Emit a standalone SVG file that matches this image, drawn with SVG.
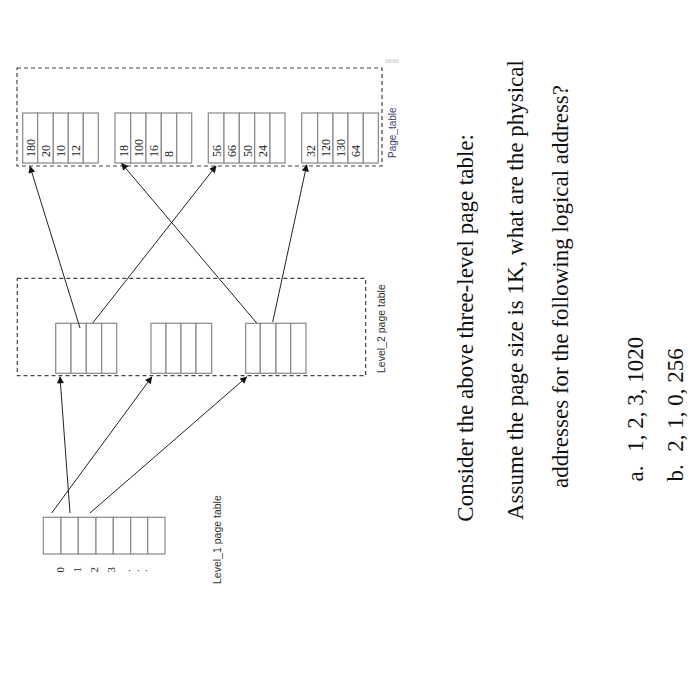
<svg xmlns="http://www.w3.org/2000/svg" width="695" height="700" viewBox="0 0 695 700">
<style>
.dash{fill:none;stroke:#444;stroke-width:1.2;stroke-dasharray:4 3}
.cell{fill:#fff;stroke:#888;stroke-width:1.2}
.num{font-family:"Liberation Serif",serif;font-size:12px;fill:#222}
.lab{font-family:"Liberation Sans",sans-serif;font-size:10.5px;fill:#333}
.q{font-family:"Liberation Serif",serif;font-size:23px;fill:#111}
.conn{stroke:#222;stroke-width:1;fill:none;marker-end:url(#ah)}
</style>
<defs>
<marker id="ah" viewBox="0 0 10 10" refX="9" refY="5" markerWidth="8" markerHeight="7" markerUnits="userSpaceOnUse" orient="auto">
<path d="M0,0 L10,5 L0,10 z" fill="#111"/>
</marker>
</defs>
<rect width="695" height="700" fill="#fff"/>

<g id="page_table">
<rect class="dash" x="17" y="68" width="365" height="98"/>
<rect x="385" y="59" width="14" height="4" fill="#e4e4e4"/>
<text class="lab" transform="translate(396,158) rotate(-90)" style="fill:#3b3f6e;font-size:10px">Page_table</text>
<g id="pt_group1">
<rect class="cell" x="22.7" y="113" width="15" height="50"/>
<rect class="cell" x="37.7" y="113" width="15.6" height="50"/>
<rect class="cell" x="53.3" y="113" width="15" height="50"/>
<rect class="cell" x="68.3" y="113" width="15" height="50"/>
<rect class="cell" x="83.3" y="113" width="15" height="50"/>
<text class="num" transform="translate(34.5,157) rotate(-90)">180</text>
<text class="num" transform="translate(50,157) rotate(-90)">20</text>
<text class="num" transform="translate(65,157) rotate(-90)">10</text>
<text class="num" transform="translate(80,157) rotate(-90)">12</text>
</g>
<g id="pt_group2">
<rect class="cell" x="115" y="113" width="15.7" height="50"/>
<rect class="cell" x="130.7" y="113" width="15.3" height="50"/>
<rect class="cell" x="146" y="113" width="15.3" height="50"/>
<rect class="cell" x="161.3" y="113" width="15.4" height="50"/>
<rect class="cell" x="176.7" y="113" width="15" height="50"/>
<text class="num" transform="translate(127.5,157) rotate(-90)">18</text>
<text class="num" transform="translate(143,157) rotate(-90)">100</text>
<text class="num" transform="translate(158,157) rotate(-90)">16</text>
<text class="num" transform="translate(173,157) rotate(-90)">8</text>
</g>
<g id="pt_group3">
<rect class="cell" x="208.3" y="113" width="15.7" height="50"/>
<rect class="cell" x="224" y="113" width="15.3" height="50"/>
<rect class="cell" x="239.3" y="113" width="15.4" height="50"/>
<rect class="cell" x="254.7" y="113" width="15.3" height="50"/>
<rect class="cell" x="270" y="113" width="15" height="50"/>
<text class="num" transform="translate(221,157) rotate(-90)">56</text>
<text class="num" transform="translate(236,157) rotate(-90)">66</text>
<text class="num" transform="translate(251.5,157) rotate(-90)">50</text>
<text class="num" transform="translate(267,157) rotate(-90)">24</text>
</g>
<g id="pt_group4">
<rect class="cell" x="301.7" y="113" width="16" height="50"/>
<rect class="cell" x="317.7" y="113" width="15.3" height="50"/>
<rect class="cell" x="333" y="113" width="15" height="50"/>
<rect class="cell" x="348" y="113" width="15.3" height="50"/>
<rect class="cell" x="363.3" y="113" width="15" height="50"/>
<text class="num" transform="translate(314.5,157) rotate(-90)">32</text>
<text class="num" transform="translate(330,157) rotate(-90)">120</text>
<text class="num" transform="translate(345,157) rotate(-90)">130</text>
<text class="num" transform="translate(360,157) rotate(-90)">64</text>
</g>
</g>

<g id="level2">
<rect class="dash" x="17.3" y="278.3" width="348.4" height="97.4"/>
<text class="lab" transform="translate(385,373) rotate(-90)">Level_2 page table</text>
<g id="l2_groupA">
<rect class="cell" x="55.7" y="323.3" width="15.3" height="50"/>
<rect class="cell" x="71" y="323.3" width="15.3" height="50"/>
<rect class="cell" x="86.3" y="323.3" width="15.4" height="50"/>
<rect class="cell" x="101.7" y="323.3" width="15" height="50"/>
</g>
<g id="l2_groupB">
<rect class="cell" x="151" y="323.3" width="15" height="50"/>
<rect class="cell" x="166" y="323.3" width="15" height="50"/>
<rect class="cell" x="181" y="323.3" width="15" height="50"/>
<rect class="cell" x="196" y="323.3" width="15.7" height="50"/>
</g>
<g id="l2_groupC">
<rect class="cell" x="245.7" y="323.3" width="14.6" height="50"/>
<rect class="cell" x="260.3" y="323.3" width="15.7" height="50"/>
<rect class="cell" x="276" y="323.3" width="14.7" height="50"/>
<rect class="cell" x="290.7" y="323.3" width="15.3" height="50"/>
</g>
</g>

<g id="level1">
<rect class="cell" x="43.3" y="517.3" width="17.7" height="36.7"/>
<rect class="cell" x="61" y="517.3" width="17.3" height="36.7"/>
<rect class="cell" x="78.3" y="517.3" width="17.7" height="36.7"/>
<rect class="cell" x="96" y="517.3" width="17.3" height="36.7"/>
<rect class="cell" x="113.3" y="517.3" width="17.4" height="36.7"/>
<rect class="cell" x="130.7" y="517.3" width="17" height="36.7"/>
<rect class="cell" x="147.7" y="517.3" width="17.3" height="36.7"/>
<text class="num" style="font-size:11px" transform="translate(63.5,572.5) rotate(-90)">0</text>
<text class="num" style="font-size:11px" transform="translate(81,572.5) rotate(-90)">1</text>
<text class="num" style="font-size:11px" transform="translate(98.3,572.5) rotate(-90)">2</text>
<text class="num" style="font-size:11px" transform="translate(115,572.5) rotate(-90)">3</text>
<text class="num" style="font-size:11px" transform="translate(130,572) rotate(-90)">.</text>
<text class="num" style="font-size:11px" transform="translate(138.5,572) rotate(-90)">.</text>
<text class="num" style="font-size:11px" transform="translate(147,572) rotate(-90)">.</text>
<text class="lab" transform="translate(220.5,584) rotate(-90)">Level_1 page table</text>
</g>

<g id="connectors">
<line class="conn" x1="70" y1="513" x2="60" y2="377"/>
<line class="conn" x1="51.7" y1="513" x2="151.7" y2="377"/>
<line class="conn" x1="90" y1="513" x2="246.7" y2="377"/>
<line class="conn" x1="80" y1="328" x2="30" y2="166.5"/>
<line class="conn" x1="92.7" y1="323" x2="216" y2="166"/>
<line class="conn" x1="256.7" y1="323" x2="121.7" y2="163.5"/>
<line class="conn" x1="272.7" y1="322" x2="306.7" y2="165"/>
</g>

<g id="question">
<text class="q" transform="translate(473,521.7) rotate(-90)">Consider the above three-level page table:</text>
<text class="q" transform="translate(523,520) rotate(-90)">Assume the page size is 1K, what are the physical</text>
<text class="q" transform="translate(568,488) rotate(-90)">addresses for the following logical address?</text>
<text class="q" transform="translate(643,481.5) rotate(-90)">a.</text>
<text class="q" transform="translate(643,451.7) rotate(-90)">1, 2, 3, 1020</text>
<text class="q" transform="translate(683,481.5) rotate(-90)">b.</text>
<text class="q" transform="translate(683,451.7) rotate(-90)">2, 1, 0, 256</text>
</g>
</svg>
